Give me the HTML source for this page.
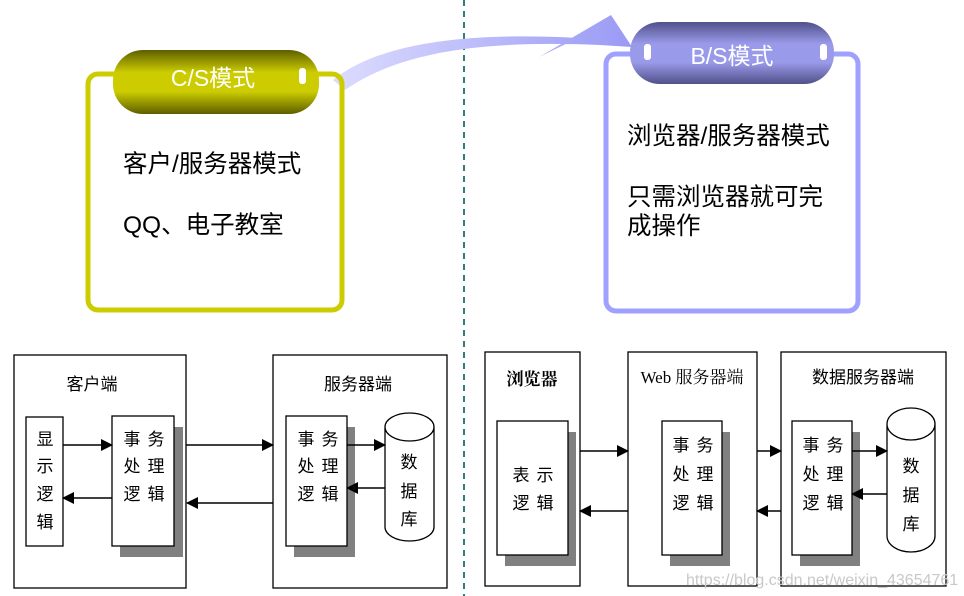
<!DOCTYPE html>
<html><head><meta charset="utf-8"><style>
html,body{margin:0;padding:0;background:#fff}
svg{display:block}
text{font-family:"Liberation Sans","Noto Sans CJK SC",sans-serif}
.s{font-family:"Liberation Serif","Noto Serif CJK SC",serif}
</style></head><body>
<svg width="964" height="596" viewBox="0 0 964 596" xmlns="http://www.w3.org/2000/svg">
<defs>
<linearGradient id="yel" x1="0" y1="0" x2="0" y2="1">
<stop offset="0" stop-color="#5e5e00"/><stop offset="0.35" stop-color="#cccc00"/><stop offset="0.65" stop-color="#cccc00"/><stop offset="1" stop-color="#5e5e00"/></linearGradient>
<linearGradient id="blu" x1="0" y1="0" x2="0" y2="1">
<stop offset="0" stop-color="#50508a"/><stop offset="0.35" stop-color="#9a9aea"/><stop offset="0.65" stop-color="#9a9aea"/><stop offset="1" stop-color="#50508a"/></linearGradient>
<linearGradient id="arr" x1="0" y1="0" x2="1" y2="0">
<stop offset="0" stop-color="#dcdcff"/><stop offset="1" stop-color="#9a9af5"/></linearGradient>
<marker id="ah" markerWidth="12" markerHeight="12" refX="11" refY="6" orient="auto" markerUnits="userSpaceOnUse"><path d="M0,0 L12,6 L0,12 z" fill="#000"/></marker>
</defs>
<line x1="464" y1="0" x2="464" y2="596" stroke="#2f7f7f" stroke-width="2" stroke-dasharray="6,5"/>
<path d="M333,80 C380,42 470,32 578,38 L539,57 L611,15 L632,47 L600,45 C480,40 400,52 345,90 z" fill="url(#arr)"/>
<rect x="88" y="74" width="254" height="236" rx="10" fill="none" stroke="#cccc00" stroke-width="5"/>
<rect x="113" y="50" width="206" height="64" rx="30" fill="url(#yel)"/>
<rect x="299" y="68" width="7" height="16" rx="3" fill="#fff"/>
<text x="213" y="86" fill="#fff" font-size="23" text-anchor="middle">C/S模式</text>
<g class="s" font-size="24.5">
<text x="123" y="172">客户/服务器模式</text>
<text x="123" y="233">QQ、电子教室</text>
<text x="627" y="144">浏览器/服务器模式</text>
<text x="627" y="205">只需浏览器就可完</text>
<text x="627" y="234">成操作</text>
</g>
<rect x="606" y="54" width="252" height="257" rx="10" fill="none" stroke="#a0a0ff" stroke-width="5"/>
<rect x="630" y="22" width="204" height="62" rx="30" fill="url(#blu)"/>
<rect x="644" y="44" width="7" height="16" rx="3" fill="#fff"/>
<rect x="820" y="44" width="7" height="16" rx="3" fill="#fff"/>
<text x="732" y="64" fill="#fff" font-size="23" text-anchor="middle">B/S模式</text>
<g stroke="#000" stroke-width="1.3" fill="#fff">
<rect x="14" y="355" width="172" height="233"/>
<rect x="273" y="355" width="174" height="233"/>
<rect x="26" y="417" width="37" height="129"/>
<rect x="120" y="427" width="63" height="130" fill="#808080" stroke="none"/>
<rect x="112" y="416" width="62" height="130"/>
<rect x="294" y="427" width="61" height="130" fill="#808080" stroke="none"/>
<rect x="286" y="416" width="61" height="130"/>
<path d="M385,427 L385,527 A24.5,14 0 0 0 434,527 L434,427 A24.5,14 0 0 0 385,427 A24.5,14 0 0 0 434,427"/>
<rect x="485" y="352" width="95" height="234"/>
<rect x="628" y="352" width="129" height="234"/>
<rect x="781" y="352" width="165" height="234"/>
<rect x="505" y="432" width="71" height="134" fill="#808080" stroke="none"/>
<rect x="497" y="421" width="71" height="134"/>
<rect x="670" y="432" width="60" height="134" fill="#808080" stroke="none"/>
<rect x="662" y="421" width="60" height="134"/>
<rect x="800" y="432" width="60" height="134" fill="#808080" stroke="none"/>
<rect x="792" y="421" width="60" height="134"/>
<path d="M887,424 L887,536 A24,16 0 0 0 935,536 L935,424 A24,16 0 0 0 887,424 A24,16 0 0 0 935,424"/>
</g>
<g stroke="#000" stroke-width="1.5" marker-end="url(#ah)">
<line x1="63" y1="445" x2="112" y2="445"/>
<line x1="112" y1="498" x2="63" y2="498"/>
<line x1="186" y1="445" x2="273" y2="445"/>
<line x1="273" y1="503" x2="187" y2="503"/>
<line x1="347" y1="445" x2="385" y2="445"/>
<line x1="385" y1="488" x2="347" y2="488"/>
<line x1="580" y1="451" x2="628" y2="451"/>
<line x1="628" y1="511" x2="580" y2="511"/>
<line x1="757" y1="451" x2="781" y2="451"/>
<line x1="781" y1="511" x2="757" y2="511"/>
<line x1="852" y1="451" x2="887" y2="451"/>
<line x1="887" y1="494" x2="852" y2="494"/>
</g>
<g font-size="17">
<text x="92" y="390" text-anchor="middle">客户端</text>
<text x="358" y="390" text-anchor="middle">服务器端</text>
<text x="45" y="445" text-anchor="middle">显</text><text x="45" y="472" text-anchor="middle">示</text>
<text x="45" y="500" text-anchor="middle">逻</text><text x="45" y="528" text-anchor="middle">辑</text>
<text x="132" y="445" text-anchor="middle">事</text><text x="156" y="445" text-anchor="middle">务</text>
<text x="132" y="472" text-anchor="middle">处</text><text x="156" y="472" text-anchor="middle">理</text>
<text x="132" y="500" text-anchor="middle">逻</text><text x="156" y="500" text-anchor="middle">辑</text>
<text x="306" y="445" text-anchor="middle">事</text><text x="330" y="445" text-anchor="middle">务</text>
<text x="306" y="472" text-anchor="middle">处</text><text x="330" y="472" text-anchor="middle">理</text>
<text x="306" y="500" text-anchor="middle">逻</text><text x="330" y="500" text-anchor="middle">辑</text>
<text x="409" y="468" text-anchor="middle">数</text><text x="409" y="497" text-anchor="middle">据</text><text x="409" y="525" text-anchor="middle">库</text>
<text x="532" y="385" text-anchor="middle" font-weight="bold" class="s">浏览器</text>
<text x="692" y="383" text-anchor="middle" class="s">Web 服务器端</text>
<text x="863" y="383" text-anchor="middle">数据服务器端</text>
<text x="521" y="481" text-anchor="middle">表</text><text x="545" y="481" text-anchor="middle">示</text>
<text x="521" y="509" text-anchor="middle">逻</text><text x="545" y="509" text-anchor="middle">辑</text>
<text x="681" y="451" text-anchor="middle">事</text><text x="705" y="451" text-anchor="middle">务</text>
<text x="681" y="480" text-anchor="middle">处</text><text x="705" y="480" text-anchor="middle">理</text>
<text x="681" y="509" text-anchor="middle">逻</text><text x="705" y="509" text-anchor="middle">辑</text>
<text x="811" y="451" text-anchor="middle">事</text><text x="835" y="451" text-anchor="middle">务</text>
<text x="811" y="480" text-anchor="middle">处</text><text x="835" y="480" text-anchor="middle">理</text>
<text x="811" y="509" text-anchor="middle">逻</text><text x="835" y="509" text-anchor="middle">辑</text>
<text x="911" y="472" text-anchor="middle">数</text><text x="911" y="501" text-anchor="middle">据</text><text x="911" y="530" text-anchor="middle">库</text>
</g>
<text x="686" y="585" font-size="16" fill="#c8c8c8">https://blog.csdn.net/weixin_43654761</text>
</svg>
</body></html>
